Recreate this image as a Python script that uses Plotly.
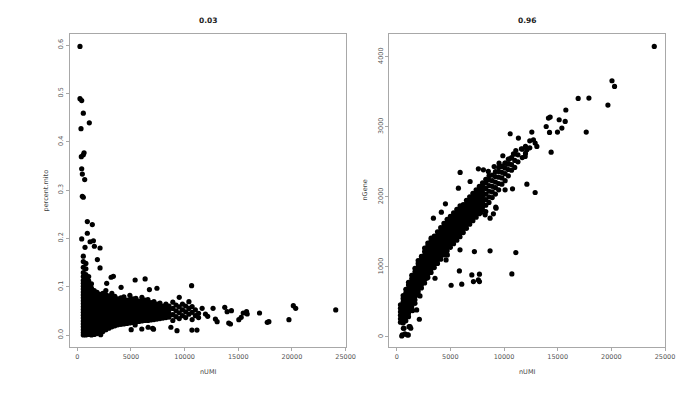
import plotly.graph_objects as go

# ---------------- data: left panel (nUMI vs percent.mito) ----------------
left_title = "0.03"
right_title = "0.96"
x_ticks = [0, 5000, 10000, 15000, 20000, 25000]
x_tick_labels = ["0", "5000", "10000", "15000", "20000", "25000"]
mito_ticks = [0.0, 0.1, 0.2, 0.3, 0.4, 0.5, 0.6]
mito_tick_labels = ["0.0", "0.1", "0.2", "0.3", "0.4", "0.5", "0.6"]
gene_ticks = [0, 1000, 2000, 3000, 4000]
gene_tick_labels = ["0", "1000", "2000", "3000", "4000"]

# dense columns of cells: (nUMI, [percent.mito ...])
mito_columns = [
    (560, [0.000, 0.005, 0.011, 0.017, 0.023, 0.029, 0.035, 0.041, 0.047, 0.053, 0.059, 0.065, 0.071, 0.077, 0.083, 0.089, 0.095, 0.101, 0.107, 0.113, 0.121, 0.129, 0.140, 0.152, 0.163]),
    (800, [0.000, 0.006, 0.012, 0.018, 0.024, 0.030, 0.036, 0.042, 0.048, 0.054, 0.060, 0.066, 0.072, 0.078, 0.084, 0.090, 0.096, 0.102, 0.109, 0.116, 0.125, 0.137, 0.148]),
    (1060, [0.001, 0.007, 0.013, 0.019, 0.025, 0.031, 0.037, 0.043, 0.049, 0.055, 0.061, 0.067, 0.073, 0.079, 0.085, 0.091, 0.097, 0.104, 0.112, 0.121]),
    (1320, [0.000, 0.006, 0.012, 0.018, 0.024, 0.030, 0.036, 0.042, 0.048, 0.054, 0.060, 0.066, 0.072, 0.078, 0.084, 0.090, 0.097, 0.106]),
    (1580, [0.001, 0.007, 0.013, 0.019, 0.025, 0.031, 0.037, 0.043, 0.049, 0.055, 0.061, 0.067, 0.073, 0.079, 0.085, 0.092]),
    (1840, [0.003, 0.009, 0.015, 0.021, 0.027, 0.033, 0.039, 0.045, 0.051, 0.057, 0.063, 0.069, 0.075, 0.081, 0.088]),
    (2100, [0.005, 0.011, 0.017, 0.023, 0.029, 0.035, 0.041, 0.047, 0.053, 0.059, 0.065, 0.071, 0.077, 0.084]),
    (2380, [0.007, 0.012, 0.018, 0.024, 0.030, 0.036, 0.042, 0.048, 0.054, 0.060, 0.066, 0.072, 0.078, 0.086]),
    (2660, [0.011, 0.016, 0.022, 0.028, 0.034, 0.040, 0.046, 0.052, 0.058, 0.064, 0.070, 0.076, 0.083, 0.092]),
    (2940, [0.014, 0.020, 0.026, 0.032, 0.038, 0.044, 0.050, 0.056, 0.062, 0.068, 0.074, 0.081]),
    (3220, [0.017, 0.023, 0.029, 0.035, 0.041, 0.047, 0.053, 0.059, 0.065, 0.071, 0.077, 0.086]),
    (3500, [0.019, 0.025, 0.031, 0.037, 0.043, 0.049, 0.055, 0.061, 0.067, 0.073, 0.080]),
    (3780, [0.021, 0.027, 0.033, 0.039, 0.045, 0.051, 0.057, 0.063, 0.069, 0.075]),
    (4060, [0.022, 0.028, 0.034, 0.040, 0.046, 0.052, 0.058, 0.064, 0.070, 0.077]),
    (4340, [0.023, 0.029, 0.035, 0.041, 0.047, 0.053, 0.059, 0.065, 0.071, 0.079]),
    (4620, [0.024, 0.030, 0.036, 0.042, 0.048, 0.054, 0.060, 0.066, 0.072]),
    (4900, [0.025, 0.031, 0.037, 0.043, 0.049, 0.055, 0.061, 0.067, 0.073, 0.082]),
    (5180, [0.026, 0.032, 0.038, 0.044, 0.050, 0.056, 0.062, 0.068, 0.075]),
    (5460, [0.027, 0.033, 0.039, 0.045, 0.051, 0.057, 0.063, 0.069, 0.076]),
    (5740, [0.028, 0.034, 0.040, 0.046, 0.052, 0.058, 0.064, 0.070]),
    (6020, [0.029, 0.035, 0.041, 0.047, 0.053, 0.059, 0.065, 0.071, 0.078]),
    (6300, [0.030, 0.036, 0.042, 0.048, 0.054, 0.060, 0.066, 0.072]),
    (6580, [0.030, 0.036, 0.042, 0.048, 0.054, 0.060, 0.066, 0.073]),
    (6860, [0.031, 0.037, 0.043, 0.049, 0.055, 0.061, 0.067]),
    (7140, [0.032, 0.038, 0.044, 0.050, 0.056, 0.062, 0.069]),
    (7420, [0.033, 0.039, 0.045, 0.051, 0.057, 0.064]),
    (7700, [0.034, 0.040, 0.046, 0.052, 0.058, 0.066]),
    (7980, [0.035, 0.041, 0.047, 0.053, 0.060]),
    (8260, [0.036, 0.043, 0.050, 0.057, 0.064]),
    (8540, [0.037, 0.045, 0.052, 0.060]),
    (8900, [0.030, 0.042, 0.055, 0.068]),
    (9200, [0.038, 0.050, 0.062]),
    (9500, [0.034, 0.046, 0.058, 0.078]),
    (9800, [0.040, 0.052, 0.064]),
    (10100, [0.036, 0.048, 0.060]),
    (10400, [0.043, 0.055, 0.069]),
    (10700, [0.032, 0.047, 0.059]),
    (11000, [0.040, 0.052]),
    (11300, [0.045, 0.036]),
]

# scattered cells
mito_scatter_x = [250, 250, 410, 560, 1120, 345, 630, 560, 375, 410, 470, 690, 470, 560,
                  935, 1400, 935, 410, 1190, 1500, 1590, 2120, 720, 1870, 2120, 2740, 3150,
                  3360, 4080, 5390, 6320, 7420, 6720, 10650, 2180,
                  5020, 6010, 7100, 9290, 10680, 11150, 5390, 6600, 7020, 8720,
                  11630, 11940, 12150, 12650, 12870, 13030, 13740, 13960, 14360, 14110,
                  14270, 15050, 15270, 15460, 15770, 15830, 16980, 17850, 17700, 19720,
                  20130, 20350, 24080]
mito_scatter_y = [0.597, 0.489, 0.485, 0.459, 0.439, 0.427, 0.377, 0.373, 0.369, 0.344, 0.333,
                  0.3215, 0.287, 0.285, 0.2346, 0.2284, 0.2105, 0.1988, 0.193, 0.195, 0.1836,
                  0.180, 0.1815, 0.156, 0.1387, 0.107, 0.1195, 0.1215, 0.0987, 0.1138, 0.116,
                  0.0967, 0.094, 0.102, 0.0007,
                  0.011, 0.0124, 0.012, 0.009, 0.0103, 0.0103, 0.0207, 0.016, 0.014, 0.016,
                  0.0553, 0.0435, 0.0387, 0.0553, 0.0331, 0.0275, 0.0573, 0.0482, 0.0503,
                  0.0248, 0.0228, 0.0317, 0.0366, 0.0455, 0.0482, 0.0435, 0.0455, 0.0275,
                  0.0263, 0.0317, 0.0607, 0.0553, 0.0518]

# ---------------- data: right panel (nUMI vs nGene) ----------------
gene_columns = [
    (350, [210, 260, 310, 360, 410, 460]),
    (600, [200, 250, 300, 350, 400, 450, 500, 550, 590]),
    (850, [230, 280, 330, 380, 430, 480, 530, 580, 630, 680]),
    (1100, [290, 340, 390, 440, 490, 540, 590, 640, 690, 740, 780]),
    (1400, [380, 430, 480, 530, 580, 630, 680, 730, 780, 830, 880]),
    (1700, [480, 530, 580, 630, 680, 730, 780, 830, 880, 930, 980]),
    (2000, [600, 650, 700, 750, 800, 850, 900, 950, 1000, 1050, 1090]),
    (2300, [700, 750, 800, 850, 900, 950, 1000, 1050, 1100, 1150]),
    (2600, [770, 820, 870, 920, 970, 1020, 1070, 1120, 1170, 1220, 1270]),
    (2900, [850, 900, 950, 1000, 1050, 1100, 1150, 1200, 1250, 1300, 1340]),
    (3200, [920, 970, 1020, 1070, 1120, 1170, 1220, 1270, 1320, 1370, 1410]),
    (3500, [990, 1040, 1090, 1140, 1190, 1240, 1290, 1340, 1390, 1440]),
    (3800, [1050, 1100, 1150, 1200, 1250, 1300, 1350, 1400, 1450, 1500]),
    (4100, [1110, 1160, 1210, 1260, 1310, 1360, 1410, 1460, 1510, 1560]),
    (4400, [1170, 1220, 1270, 1320, 1370, 1420, 1470, 1520, 1570, 1620]),
    (4700, [1230, 1280, 1330, 1380, 1430, 1480, 1530, 1580, 1630, 1680]),
    (5000, [1280, 1330, 1380, 1430, 1480, 1530, 1580, 1630, 1680, 1720]),
    (5300, [1330, 1380, 1430, 1480, 1530, 1580, 1630, 1680, 1730, 1770]),
    (5600, [1380, 1430, 1480, 1530, 1580, 1630, 1680, 1730, 1780, 1820]),
    (5900, [1430, 1480, 1530, 1580, 1630, 1680, 1730, 1780, 1830, 1870]),
    (6200, [1490, 1540, 1590, 1640, 1690, 1740, 1790, 1840, 1890]),
    (6500, [1550, 1600, 1650, 1700, 1750, 1800, 1850, 1900, 1950]),
    (6800, [1610, 1660, 1710, 1760, 1810, 1860, 1910, 1960, 2000]),
    (7100, [1660, 1710, 1760, 1810, 1860, 1910, 1960, 2010, 2050]),
    (7400, [1710, 1760, 1810, 1860, 1910, 1960, 2010, 2060, 2100]),
    (7700, [1760, 1810, 1860, 1910, 1960, 2010, 2060, 2110, 2150]),
    (8000, [1810, 1860, 1910, 1960, 2010, 2060, 2110, 2160, 2200]),
    (8300, [1880, 1960, 2040, 2120, 2200, 2250]),
    (8600, [1920, 2000, 2080, 2160, 2240, 2300]),
    (8900, [1990, 2070, 2150, 2230, 2310]),
    (9200, [2040, 2130, 2210, 2290, 2360]),
    (9500, [2100, 2190, 2280, 2360, 2420]),
    (9800, [2180, 2270, 2350, 2430]),
    (10100, [2230, 2330, 2410, 2480]),
    (10400, [2300, 2390, 2470, 2540]),
    (10700, [2380, 2460, 2560]),
    (11000, [2420, 2520, 2610]),
    (11300, [2500, 2600]),
    (11700, [2560, 2680]),
    (12000, [2620, 2720]),
    (12400, [2700, 2800]),
]

gene_scatter_x = [24000, 20060, 20300, 19680, 17660, 17910, 16910, 15760, 15140, 15700, 14300,
                  13930, 15390, 14980, 14240, 14390, 12590, 10570, 11340, 12740, 12900, 13060,
                  11620, 12130, 11970, 11100, 10880, 9890, 10500, 10100, 10410, 9540, 9790,
                  9080, 7610, 8080, 8540, 5910, 6840, 12130, 12900, 10790, 5750, 10100, 9260,
                  9010, 8700, 8240, 7830, 3420, 4540, 4160, 5900, 7240, 8700, 11100, 4500,
                  4720, 4600, 5840, 7000, 7710, 10730, 7150, 7610, 7710, 5070, 6060, 3570,
                  3390, 2800, 2110, 1860, 2170, 470, 770, 1080, 620, 1240, 1490, 520, 1000,
                  680, 1150, 1310, 14140, 9230, 8300]
gene_scatter_y = [4147, 3657, 3576, 3310, 2924, 3410, 3404, 3239, 3100, 3076, 3138,
                  3004, 2981, 2924, 2919, 2638, 2924, 2900, 2838, 2814, 2767, 2719,
                  2686, 2671, 2576, 2661, 2614, 2586, 2539, 2481, 2471, 2481, 2433,
                  2433, 2400, 2386, 2362, 2348, 2219, 2181, 2062, 2114, 2124, 2100, 1838,
                  1757, 1695, 1743, 1776, 1695, 1900, 1781, 1243, 1219, 1229, 1205, 1195,
                  1171, 1100, 943, 886, 896, 900, 790, 814, 790, 738, 753, 838,
                  1076, 838, 253, 386, 586, 14, 43, 29, 124, 147, 376, 29, 29,
                  124, 147, 124, 3124, 1853, 1790]

# ---------------- build point arrays ----------------
def flatten(columns, extra_x, extra_y):
    xs, ys = [], []
    for cx, col in columns:
        for v in col:
            xs.append(cx)
            ys.append(v)
    return xs + list(extra_x), ys + list(extra_y)

nUMI_left, percent_mito = flatten(mito_columns, mito_scatter_x, mito_scatter_y)
nUMI_right, nGene = flatten(gene_columns, gene_scatter_x, gene_scatter_y)

W, H = 700, 393
FONT = "DejaVu Sans"
BOX = "#a8a8a8"
TICKC = "#555555"

fig = go.Figure()
marker = dict(color="black", size=5.2, line=dict(width=0))
fig.add_trace(go.Scatter(x=nUMI_left, y=percent_mito, mode="markers", marker=marker,
                         xaxis="x", yaxis="y", hoverinfo="skip", showlegend=False))
fig.add_trace(go.Scatter(x=nUMI_right, y=nGene, mode="markers", marker=marker,
                         xaxis="x2", yaxis="y2", hoverinfo="skip", showlegend=False))

def px_x(p):
    return p / W

def px_y(p):
    return 1 - p / H

axis_common = dict(showgrid=False, zeroline=False, showline=True, linecolor=BOX, linewidth=1,
                   mirror=True, ticks="outside", ticklen=3, tickcolor=BOX, tickwidth=1,
                   tickfont=dict(family=FONT, size=6.5, color=TICKC), tickmode="array",
                   automargin=False)

ydom = [px_y(346.7), px_y(34)]
fig.update_layout(
    width=W, height=H,
    margin=dict(l=0, r=0, t=0, b=0),
    paper_bgcolor="white", plot_bgcolor="white",
    showlegend=False,
    xaxis=dict(domain=[px_x(70), px_x(346)], range=[-680, 25037],
               tickvals=x_ticks, ticktext=x_tick_labels, anchor="y", **axis_common),
    yaxis=dict(domain=ydom, range=[-0.0242, 0.6228], tickvals=mito_ticks,
               ticktext=mito_tick_labels, tickangle=-90, anchor="x", **axis_common),
    xaxis2=dict(domain=[px_x(389.3), px_x(665)], range=[-690, 25000],
                tickvals=x_ticks, ticktext=x_tick_labels, anchor="y2", **axis_common),
    yaxis2=dict(domain=ydom, range=[-139, 4324], tickvals=gene_ticks,
                ticktext=gene_tick_labels, tickangle=-90, anchor="x2", **axis_common),
)

def label(text, xp, yp, size=6.5, angle=0, bold=False, color="#444444"):
    fig.add_annotation(x=px_x(xp), y=px_y(yp), xref="paper", yref="paper",
                       text=f"<b>{text}</b>" if bold else text, showarrow=False,
                       textangle=angle, xanchor="center", yanchor="middle",
                       font=dict(family=FONT, size=size, color=color))

label(left_title, 208, 20.7, size=7.5, bold=True, color="#222222")
label(right_title, 527, 20.7, size=7.5, bold=True, color="#222222")
label("nUMI", 208, 372.3)
label("nUMI", 527, 372.3)
label("percent.mito", 45, 190.5, angle=-90)
label("nGene", 364, 190.5, angle=-90)

fig.write_html("out.html", config={"displayModeBar": False},
               post_script="document.body.style.margin='0';document.body.style.overflow='hidden';")
